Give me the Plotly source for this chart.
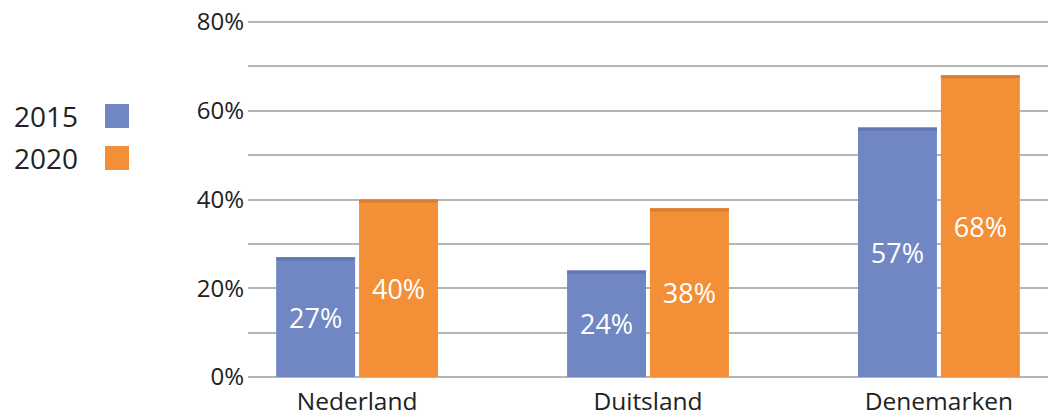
import plotly.graph_objects as go

categories = ["Nederland", "Duitsland", "Denemarken"]
years = ["2015", "2020"]
values_2015 = [27, 24, 56.2]
values_2020 = [40, 38, 68]
labels_2015 = ["27%", "24%", "57%"]
labels_2020 = ["40%", "38%", "68%"]
y_tickvals = [0, 10, 20, 30, 40, 50, 60, 70, 80]
y_ticktext = ["0%", "", "20%", "", "40%", "", "60%", "", "80%"]

blue = "#7087c4"
orange = "#f28f37"
blue_top = "#6276b3"
orange_top = "#da7c31"
font_family = "Open Sans, DejaVu Sans, sans-serif"
txt = "#222222"
band = 0.7  # thickness of the darker top edge, in axis units

# the page body adds an 8px offset; the figure is sized to fit the window
OFF = 8
W, H = 1056 - OFF, 415 - OFF
L, R, T, B = 248 - OFF, 8, 20 - OFF, 38
pw, ph = W - L - R, H - T - B


def px_x(x):
    return (x - OFF - L) / pw


def px_y(y):
    return (H - B - (y - OFF)) / ph


fig = go.Figure()
for vals, labs, yr, col, topcol, grp in [
    (values_2015, labels_2015, years[0], blue, blue_top, "a"),
    (values_2020, labels_2020, years[1], orange, orange_top, "b"),
]:
    fig.add_trace(go.Bar(
        x=categories, y=vals, name=yr, text=labs, offsetgroup=grp,
        marker=dict(color=col, line=dict(width=0)),
        textposition="inside", insidetextanchor="middle", textangle=0,
        textfont=dict(color="white", size=27, family=font_family),
    ))
    fig.add_trace(go.Bar(
        x=categories, y=[band] * len(vals), base=[v - band for v in vals],
        offsetgroup=grp, showlegend=False, hoverinfo="skip",
        marker=dict(color=topcol, line=dict(width=0)),
    ))

# manual legend (text left of swatch)
for i, (yr, col) in enumerate(zip(years, [blue, orange])):
    yc = 116 + i * 42
    fig.add_annotation(xref="paper", yref="paper", x=px_x(12),
                       y=px_y(yc), xanchor="left", yanchor="middle",
                       text=yr, showarrow=False,
                       font=dict(size=28, color=txt, family=font_family))
    fig.add_shape(type="rect", xref="paper", yref="paper",
                  x0=px_x(105), x1=px_x(129),
                  y0=px_y(yc + 12), y1=px_y(yc - 12),
                  fillcolor=col, line=dict(width=0))

fig.update_layout(
    width=W, height=H,
    margin=dict(l=L, r=R, t=T, b=B, autoexpand=False),
    plot_bgcolor="white", paper_bgcolor="white",
    barmode="group", bargap=0.43, bargroupgap=0.048,
    showlegend=False,
    uniformtext=dict(mode=False),
    font=dict(family=font_family, color=txt),
    xaxis=dict(range=[-0.375, 2.375], showgrid=False, showline=False,
               ticks="", automargin=False, ticklabelstandoff=7,
               ticklabeloverflow="allow",
               tickfont=dict(size=24.5, color=txt)),
    yaxis=dict(range=[0, 80.45], tickvals=y_tickvals, ticktext=y_ticktext,
               showgrid=True, gridcolor="#b5b5b5", gridwidth=1.5,
               zeroline=True, zerolinecolor="#b5b5b5", zerolinewidth=1.5,
               showline=False, ticks="", ticklabelstandoff=3, automargin=False,
               ticklabeloverflow="allow",
               tickfont=dict(size=24, color=txt)),
)

fig.write_html("out.html")
